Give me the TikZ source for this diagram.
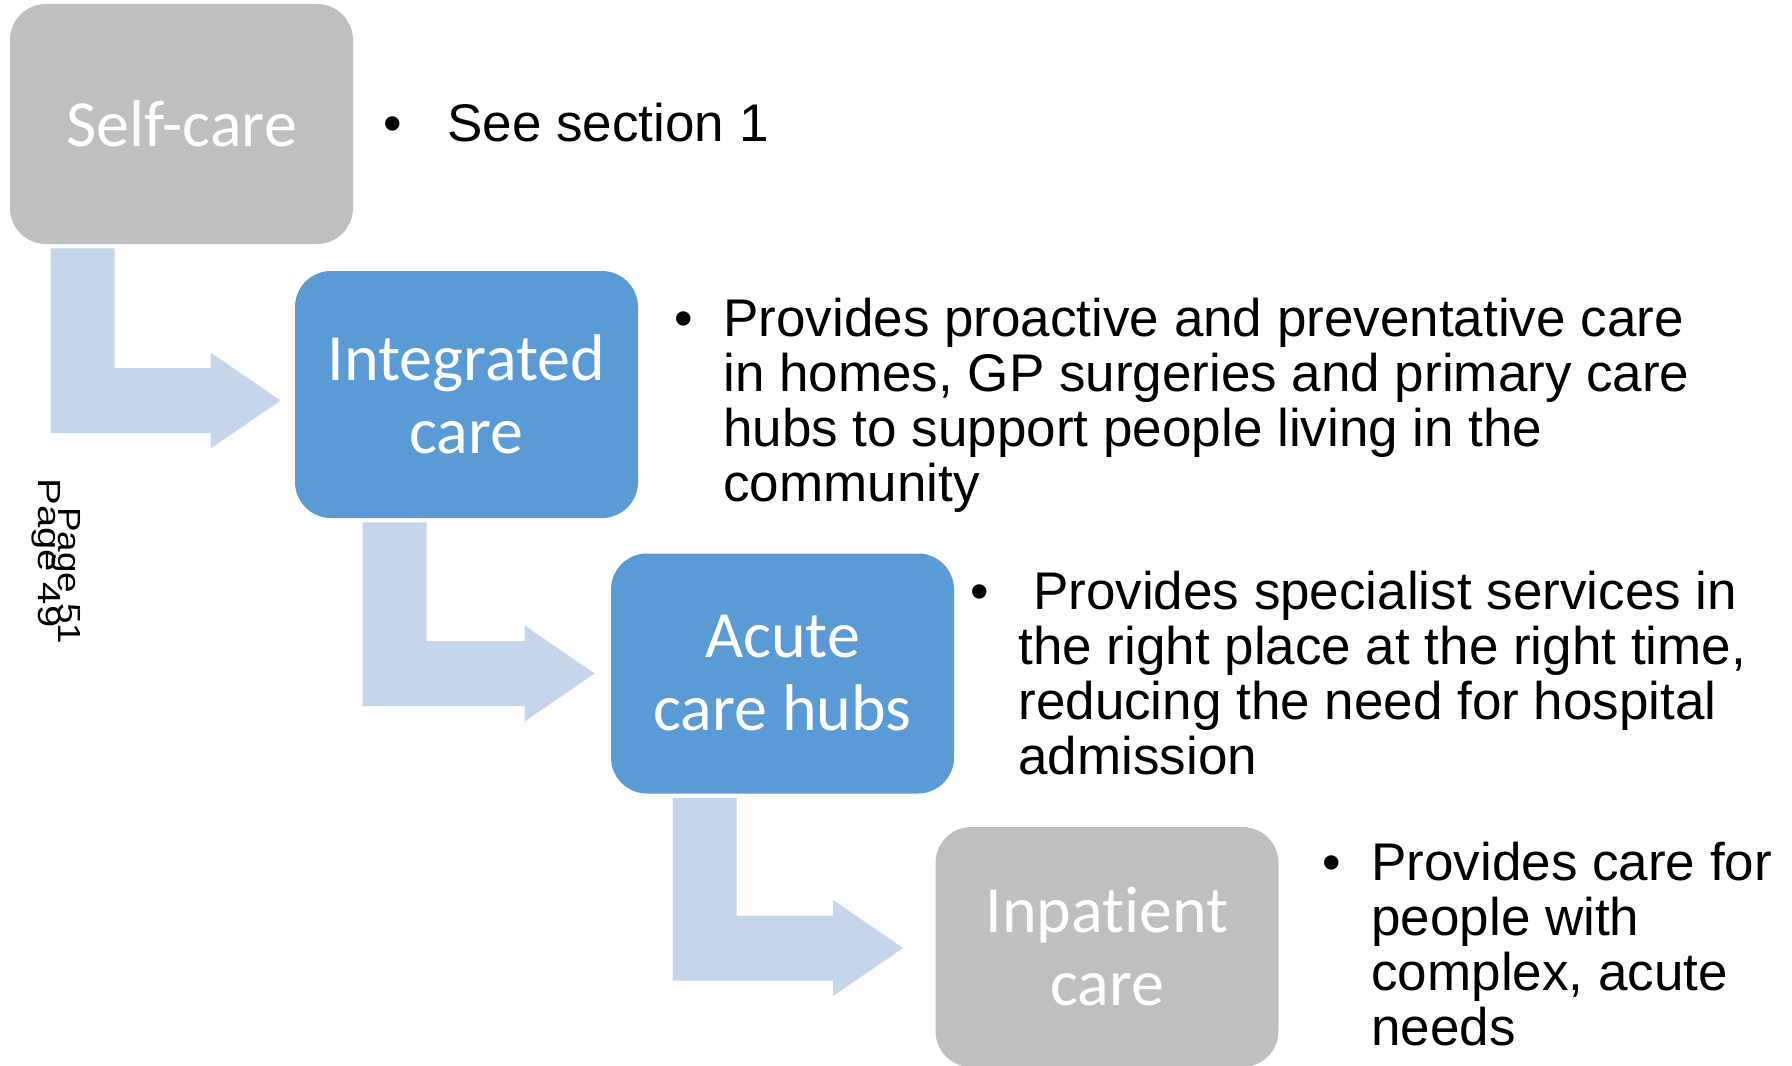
\documentclass[tikz,border=0pt]{standalone}
\usepackage{fontspec}
\usepackage{graphicx}
\setmainfont{Liberation Sans}
\newfontfamily\calibrifont[Ligatures=NoCommon]{Carlito}
\usetikzlibrary{calc}

\definecolor{boxgrey}{HTML}{BFBFBF}
\definecolor{boxblue}{HTML}{5B9BD5}
\definecolor{arrowblue}{HTML}{C5D5EA}

\newcommand{\bulletat}[1]{\llap{\makebox[#1][l]{\textbullet}}}
\newcommand{\stepdown}[5]{%
  \fill[arrowblue] let \p1=(#1.south west), \p2=($(#2.west)+(0,#5)$) in
    (\x1+#3,\y1-2pt) -- (\x1+#3+32pt,\y1-2pt) -- (\x1+#3+32pt,\y2+16.25pt)
    -- (\x2-#4-35pt,\y2+16.25pt) -- (\x2-#4-35pt,\y2+24pt) -- (\x2-#4,\y2)
    -- (\x2-#4-35pt,\y2-24pt) -- (\x2-#4-35pt,\y2-16.25pt) -- (\x1+#3,\y2-16.25pt) -- cycle;}

\begin{document}
\begin{tikzpicture}[x=0.5pt,y=-0.5pt,
    stage/.style={rounded corners=18pt,minimum width=171.5pt,minimum height=120pt,inner sep=0pt,
      text=white,align=center,font=\calibrifont\fontsize{33}{36.5}\selectfont},
    note/.style={anchor=north west,inner sep=0pt,align=left,font=\fontsize{26.5}{27.5}\selectfont},
    pagemark/.style={rotate=-90,anchor=base west,inner sep=0pt,font=\fontsize{16}{18}\selectfont}]
    \clip (0,0) rectangle (1792,1065);
    \node[stage,fill=boxgrey] (self) at (181.5,124) {Self-care};
    \node[stage,fill=boxblue,minimum height=123.5pt] (integrated) at (466.5,394.5) {Integrated\\care};
    \node[stage,fill=boxblue] (acute) at (782.5,673.5) {Acute\\care hubs};
    \node[stage,fill=boxgrey] (inpatient) at (1107,947) {Inpatient\\care};
    \stepdown{self}{integrated}{20.5pt}{7pt}{-3pt}
    \stepdown{integrated}{acute}{34pt}{8pt}{0pt}
    \stepdown{acute}{inpatient}{31pt}{16pt}{-0.5pt}
    \node[note] (selfnote) at (447,103) {\bulletat{32pt}See section 1};
    \node[note] (integratednote) at (723,298) {\bulletat{24.5pt}Provides proactive and preventative care\\
        in homes, GP surgeries and primary care\\hubs to support people living in the\\community};
    \node[note] (acutenote) at (1018,571) {\bulletat{24pt}\ Provides specialist services in\\
        the right place at the right time,\\reducing the need for hospital\\admission};
    \node[note] (inpatientnote) at (1371,842) {\bulletat{24.5pt}Provides care for\\people with\\complex, acute\\needs};
    \node[pagemark] (page49) at (38,478) {\scalebox{1.25}[1]{Page 49}};
    \node[pagemark] (page51) at (58,507) {\scalebox{1.15}[1]{Page 51}};
\end{tikzpicture}
\end{document}
